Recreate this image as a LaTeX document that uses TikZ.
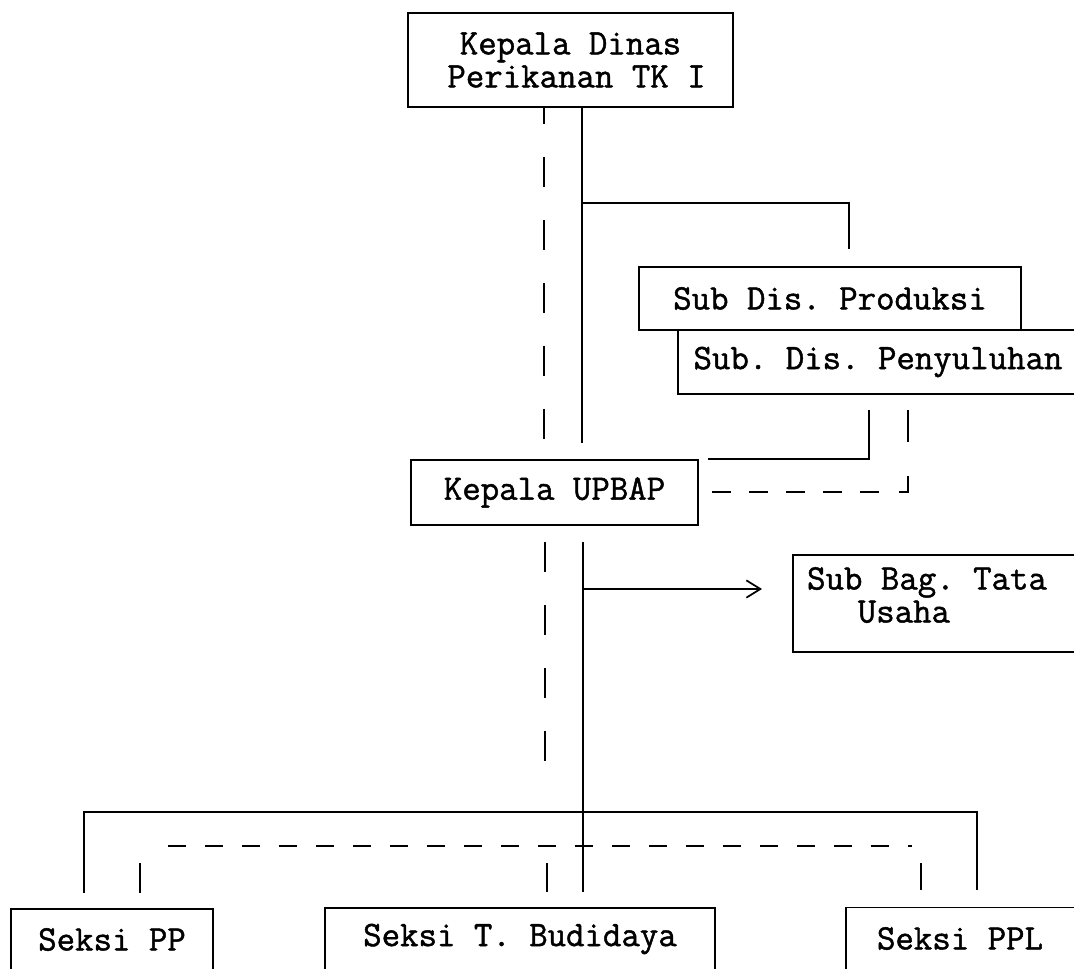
\documentclass[tikz,border=0pt]{standalone}
\usepackage{fontspec}
\newfontfamily\courfont[FakeBold=1.3]{Latin Modern Mono}
\usetikzlibrary{arrows.meta}
\begin{document}
\begin{tikzpicture}[x=0.75pt,y=-0.75pt,
  every node/.style={font=\courfont\fontsize{26.86}{24.75}\selectfont\frenchspacing},
  box/.style={draw, line width=1.3pt, rectangle, inner sep=0pt, align=center},
  conn/.style={line width=1.3pt},
  vdash/.style={conn, dash pattern=on 22.5pt off 24.75pt},
  hdash/.style={conn, dash pattern=on 13.5pt off 14.25pt},
]
\useasboundingbox (0,0) rectangle (1074,968);
\clip (0,0) rectangle (1074,968);

% boxes
\node[box, minimum width=243.75pt, minimum height=70.5pt] (kd) at (570.5,60) {Kepala Dinas\\\hspace*{9pt}Perikanan TK I};
\node[box, minimum width=286.5pt, minimum height=47.25pt] (prod) at (830,298.5) {Sub Dis. Produksi};
\node[box, minimum width=316.5pt, minimum height=48pt] (peny) at (889,362) {Sub. Dis. Penyuluhan\hspace*{16.5pt}};
\node[box, minimum width=215.25pt, minimum height=48.75pt] (up) at (554.5,492.5) {Kepala UPBAP};
\node[box, align=left, minimum width=230.25pt, minimum height=72.75pt] (tu) at (946.5,603.5) {Sub Bag. Tata\hspace*{29.25pt}\\\hspace*{38pt}Usaha\rule[-13pt]{0pt}{13pt}};
\node[box, minimum width=151.5pt, minimum height=45.75pt] (pp) at (112,939.5) {Seksi PP};
\node[box, minimum width=292.5pt, minimum height=46.5pt] (tb) at (520,939) {Seksi T. Budidaya};
\node[box, minimum width=190.5pt, minimum height=46.5pt] (ppl) at (973,938.5) {Seksi PPL\hspace*{19.5pt}};

% coordinates
\coordinate (a1) at (582,443);
\coordinate (b1) at (582,203);
\coordinate (b2) at (849,249);
\coordinate (c1) at (869,410);
\coordinate (c2) at (708,459);
\coordinate (d1) at (908,410);
\coordinate (d2) at (708,492);
\coordinate (e1) at (544,443);
\coordinate (f0) at (583,542);
\coordinate (f1) at (583,892);
\coordinate (g0) at (583,589);
\coordinate (g1) at (762,589);
\coordinate (h0) at (545,542);
\coordinate (h1) at (545,765);
\coordinate (k1) at (84,893);
\coordinate (k2) at (977,812);
\coordinate (k3) at (977,890);
\coordinate (m0) at (168,846);
\coordinate (m1) at (912,846);
\coordinate (n1) at (140,863);
\coordinate (n2) at (140,893);
\coordinate (n3) at (547,863);
\coordinate (n4) at (547,892);
\coordinate (n5) at (921,863);
\coordinate (n6) at (921,890);

% solid connectors
\draw[conn] (kd.south -| a1) -- (a1);
\draw[conn] (b1) -| (b2);
\draw[conn] (c1) |- (c2);
\draw[conn] (f0) -- (f1);
\draw[conn, -{Straight Barb[length=10.5pt,width=13pt,line width=1.3pt]}] (g0) -- (g1);
\draw[conn] (k1) |- (k2) -- (k3);

% dashed connectors
\draw[vdash, dash phase=10.5pt] (kd.south -| e1) -- (e1);
\draw[conn, dash pattern=on 24pt off 25.5pt on 18.75pt off 15pt on 14.25pt off 13.5pt on 14.25pt off 13.5pt on 14.25pt off 13.5pt on 14.25pt off 13.5pt on 14.25pt off 13.5pt] (d1) |- (d2);
\draw[vdash] (h0) -- (h1);
\draw[hdash] (m0) -- (m1);
\draw[conn] (n1) -- (n2);
\draw[conn] (n3) -- (n4);
\draw[conn] (n5) -- (n6);
\end{tikzpicture}
\end{document}
